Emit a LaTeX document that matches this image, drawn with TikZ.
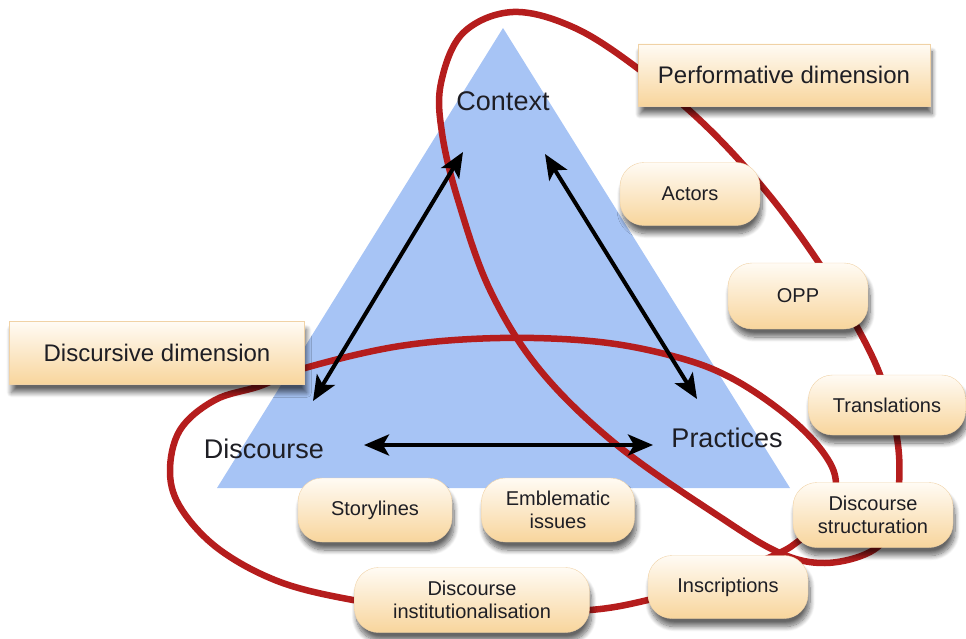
\documentclass[tikz,border=0pt]{standalone}
\usepackage{fontspec}
\setmainfont{Liberation Sans}
\usetikzlibrary{shadows.blur,arrows.meta}
\definecolor{tri}{HTML}{A7C4F5}
\definecolor{redl}{HTML}{B51D1D}
\definecolor{boxtop}{HTML}{FFFBF4}
\definecolor{boxbot}{HTML}{F8D59C}
\definecolor{boxedge}{HTML}{F0D2A6}
\definecolor{txt}{HTML}{1E1E24}
\begin{document}
\begin{tikzpicture}[x=1pt,y=-1pt,
  box/.style={top color=boxtop, bottom color=boxbot, draw=boxedge, line width=0.4pt,
    blur shadow={shadow xshift=2pt, shadow yshift=-8pt, shadow blur steps=10, shadow blur radius=5pt, shadow opacity=60},
    align=center, text=txt, font=\fontsize{20}{23}\selectfont, inner sep=0pt},
  pill/.style={box, rounded corners=24pt},
  dimbox/.style={box, font=\fontsize{24}{28}\selectfont},
  redcurve/.style={draw=redl, line width=6.5pt},
  biarrow/.style={draw=black, line width=4pt,
    {Stealth[length=25pt,width=21pt,inset=6pt]}-{Stealth[length=25pt,width=21pt,inset=6pt]}},
  cornerlabel/.style={text=txt, font=\fontsize{27}{30}\selectfont, inner sep=0pt}]
\useasboundingbox (0,0) rectangle (966,639);
% triangle
\fill[tri] (503,28) -- (790,488) -- (217,488) -- cycle;
% red curves
\draw[redcurve] plot[smooth cycle, tension=0.6] coordinates {
  (513,12) (575,28) (640,70) (705,125) (765,190) (817,260) (857,327)
  (882,380) (897,438) (899,485) (892,527) (870,552) (825,563) (780,553) (720,517)
  (617,445) (540,370) (490,290) (458,200) (442,133) (441,83) (463,33)};
\draw[redcurve] plot[smooth cycle, tension=0.6] coordinates {
  (305,368) (400,346) (500,338) (600,342) (680,358) (735,380) (790,418) (825,455)
  (836,485) (825,520) (800,540) (775,555) (700,585) (648,600) (590,610) (500,612)
  (420,608) (353,600) (280,582) (220,550) (182,510) (170,473) (180,430) (215,400)
  (260,386)};
% labels
\node[cornerlabel] (ctx) at (503,101) {Context};
\node[cornerlabel] (dis) at (264,449) {Discourse};
\node[cornerlabel] (pra) at (727,438) {Practices};
% arrow ends
\coordinate (cd1) at (463,152);
\coordinate (cd2) at (313,401);
\coordinate (cp1) at (545,154);
\coordinate (cp2) at (697,399);
\coordinate (dp1) at (364,445);
\coordinate (dp2) at (653,445);
\draw[biarrow] (cd1) -- (cd2);
\draw[biarrow] (cp1) -- (cp2);
\draw[biarrow] (dp1) -- (dp2);
% boxes
\node[dimbox, minimum width=292pt, minimum height=62pt] (perf) at (784,75) {Performative dimension};
\node[dimbox, minimum width=295pt, minimum height=63pt] (discd) at (157,353) {Discursive dimension};
\node[pill, minimum width=140pt, minimum height=63pt] (actors) at (690,194) {Actors};
\node[pill, minimum width=140pt, minimum height=66pt] (opp) at (798,296) {OPP};
\node[pill, minimum width=157pt, minimum height=60pt] (trans) at (887,405) {Translations};
\node[pill, minimum width=160pt, minimum height=65pt] (dstr) at (873,515) {Discourse\\structuration};
\node[pill, minimum width=160pt, minimum height=63pt] (insc) at (728,587) {Inscriptions};
\node[pill, minimum width=154pt, minimum height=64pt] (story) at (375,510) {Storylines};
\node[pill, minimum width=153pt, minimum height=64pt] (embl) at (558,510) {Emblematic\\issues};
\node[pill, minimum width=235pt, minimum height=65pt] (dinst) at (472,600) {Discourse\\institutionalisation};
\end{tikzpicture}
\end{document}
